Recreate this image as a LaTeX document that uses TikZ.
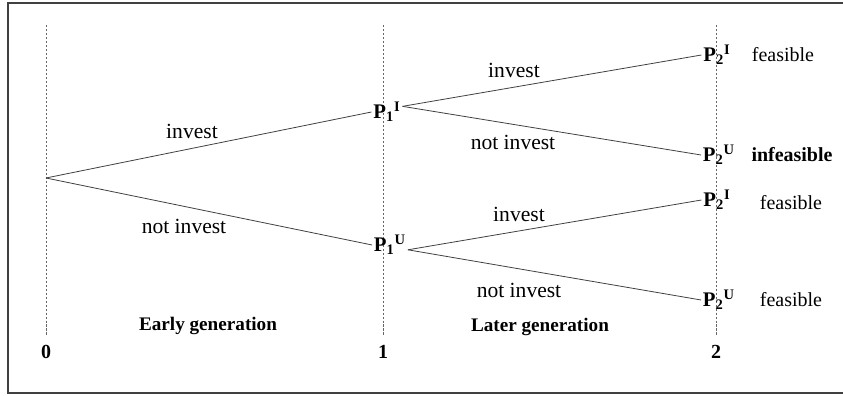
\documentclass[tikz,border=0pt]{standalone}
\usepackage{fontspec}
\setmainfont{Liberation Serif}

\begin{document}
\begin{tikzpicture}[x=0.022cm,y=-0.022cm]
\tikzset{stage/.style={dash pattern=on 1.5pt off 1pt,line width=0.4pt,black!60},
  branch/.style={line width=0.5pt,black!75},
  pnode/.style={font=\fontsize{13}{15}\selectfont\bfseries,inner sep=1pt},
  lbl/.style={font=\fontsize{12.5}{15}\selectfont,inner sep=1pt},
  edgelbl/.style={font=\fontsize{13.5}{16}\selectfont,inner sep=1pt},
  gen/.style={font=\fontsize{12}{14}\selectfont\bfseries,inner sep=1pt}}
\useasboundingbox (0,0) rectangle (843,396);
\draw[line width=1pt,black!75] (8,3) rectangle (870,393);
\draw[stage] (46,25) -- (46,335);
\draw[stage] (383,25) -- (383,335);
\draw[stage] (716,25) -- (716,335);
\coordinate (r) at (46,178);
\node[pnode] (p1i) at (387,112) {P\textsubscript{1}\textsuperscript{I}};
\node[pnode] (p1u) at (390,245) {P\textsubscript{1}\textsuperscript{U}};
\node[pnode] (p2a) at (717,55) {P\textsubscript{2}\textsuperscript{I}};
\node[pnode] (p2b) at (719,155) {P\textsubscript{2}\textsuperscript{U}};
\node[pnode] (p2c) at (717,200) {P\textsubscript{2}\textsuperscript{I}};
\node[pnode] (p2d) at (719,300) {P\textsubscript{2}\textsuperscript{U}};
\draw[branch] (r) -- (p1i.west);
\draw[branch] (r) -- (p1u.west);
\draw[branch] (p1i.20) -- (p2a.west);
\draw[branch] (p1i.20) -- (p2b.west);
\draw[branch] (p1u.-15) -- (p2c.west);
\draw[branch] (p1u.-15) -- (p2d.west);
\node[edgelbl] (l1) at (192,131) {invest};
\node[edgelbl] (l2) at (184,226) {not invest};
\node[edgelbl] (l3) at (514,70) {invest};
\node[edgelbl] (l4) at (513,142) {not invest};
\node[edgelbl] (l5) at (519,214) {invest};
\node[edgelbl] (l6) at (519,290) {not invest};
\node[lbl] (f1) at (783,55) {feasible};
\node[lbl,font=\fontsize{12.5}{15}\selectfont\bfseries] (f2) at (792,155) {infeasible};
\node[lbl] (f3) at (791,203) {feasible};
\node[lbl] (f4) at (791,300) {feasible};
\node[gen] (g1) at (208,326) {Early generation};
\node[gen] (g2) at (540,327) {Later generation};
\node[gen,font=\fontsize{12.5}{15}\selectfont\bfseries] (t0) at (46,352) {0};
\node[gen,font=\fontsize{12.5}{15}\selectfont\bfseries] (t1) at (383,352) {1};
\node[gen,font=\fontsize{12.5}{15}\selectfont\bfseries] (t2) at (716,352) {2};
\end{tikzpicture}
\end{document}
